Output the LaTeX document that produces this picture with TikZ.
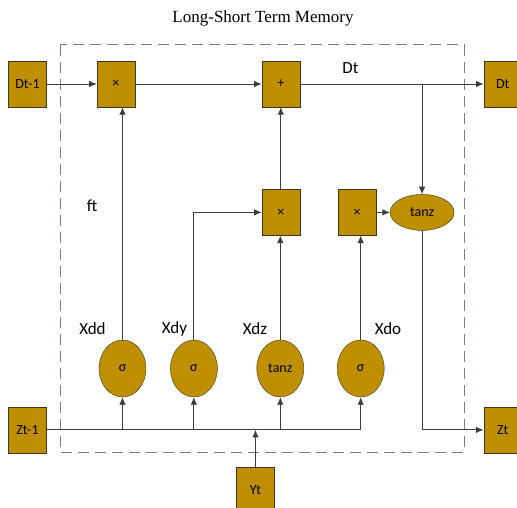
\documentclass[tikz,border=0pt]{standalone}
\usepackage{fontspec}
\setmainfont{Liberation Serif}
\newfontfamily\lblfont{Carlito}
\usetikzlibrary{arrows.meta,positioning,shapes.geometric}

\definecolor{gatefill}{RGB}{191,143,0}
\definecolor{gateline}{RGB}{60,55,30}
\definecolor{frameline}{RGB}{125,128,112}
\definecolor{wire}{RGB}{60,60,60}

\begin{document}
\begin{tikzpicture}[x=1pt, y=-1pt,
  box/.style={draw=gateline, fill=gatefill, minimum width=38pt, minimum height=46pt, inner sep=0pt, font=\lblfont\fontsize{14}{14}\selectfont},
  gate/.style={ellipse, draw=gateline, fill=gatefill, minimum width=47pt, minimum height=57pt, inner sep=0pt, font=\lblfont\fontsize{14}{14}\selectfont},
  lbl/.style={font=\lblfont\fontsize{17}{17}\selectfont, inner sep=0pt},
  arr/.style={-{Latex[length=7.5pt, width=6.5pt]}, draw=wire, line width=0.9pt},
  wireline/.style={draw=wire, line width=0.9pt}
]
\useasboundingbox (0,0) rectangle (517,508);
\node[font=\fontsize{17}{17}\selectfont] (title) at (263,18) {Long-Short Term Memory};
\draw[frameline, line width=1pt, dash pattern=on 11pt off 6pt] (60,45) rectangle (464,452);

% cell state row
\node[box] (dprev) at (27.5,84) {Dt-1};
\node[box, right=50pt of dprev] (mulf) {×};
\node[box, right=126.5pt of mulf] (add) {+};
\node[box, right=183.5pt of add] (dout) {Dt};
\node[lbl] (dlbl) at (350.5,68) {Dt};

% output path
\node[box, below=82pt of add] (muli) {×};
\node[box, right=38pt of muli] (mulo) {×};
\node[gate, right=13.5pt of mulo, minimum width=64pt, minimum height=36pt] (tanc) {tanz};

% gates
\node[gate] (sigf) at (122.5,368.5) {σ};
\node[gate, right=24pt of sigf] (sigi) {σ};
\node[gate, right=39pt of sigi] (tang) {tanz};
\node[gate, right=33pt of tang] (sigo) {σ};
\node[lbl] (ft) at (92,206) {ft};
\node[lbl] (xdd) at (92.5,328.5) {Xdd};
\node[lbl] (xdy) at (174.5,328.5) {Xdy};
\node[lbl] (xdz) at (255,328.5) {Xdz};
\node[lbl] (xdo) at (388,328.5) {Xdo};

% inputs and output
\node[box, below=299.5pt of dprev] (zprev) {Zt-1};
\node[box, below=299.5pt of dout] (zout) {Zt};
\node[box] (yt) at (255.5,490) {Yt};

\coordinate (split) at (tanc |- add);
\coordinate (zend) at (sigo |- zprev);

\draw[arr] (dprev) -- (mulf);
\draw[arr] (mulf) -- (add);
\draw[arr] (add) -- (dout);
\draw[arr] (split) -- (tanc);
\draw[arr] (mulo) -- (tanc);
\draw[arr] (tanc.south) |- (zout);
\draw[arr] (muli) -- (add);
\draw[arr] (sigf.north) -- (sigf |- mulf.south);
\draw[arr] (sigi.north) |- (muli);
\draw[arr] (tang.north) -- (tang |- muli.south);
\draw[arr] (sigo.north) -- (sigo |- mulo.south);
\draw[wireline] (zprev) -- (zend);
\draw[arr] (sigf |- zprev) -- (sigf);
\draw[arr] (sigi |- zprev) -- (sigi);
\draw[arr] (tang |- zprev) -- (tang);
\draw[arr] (zend) -- (sigo);
\draw[arr] (yt) -- (yt |- zprev);
\end{tikzpicture}
\end{document}
